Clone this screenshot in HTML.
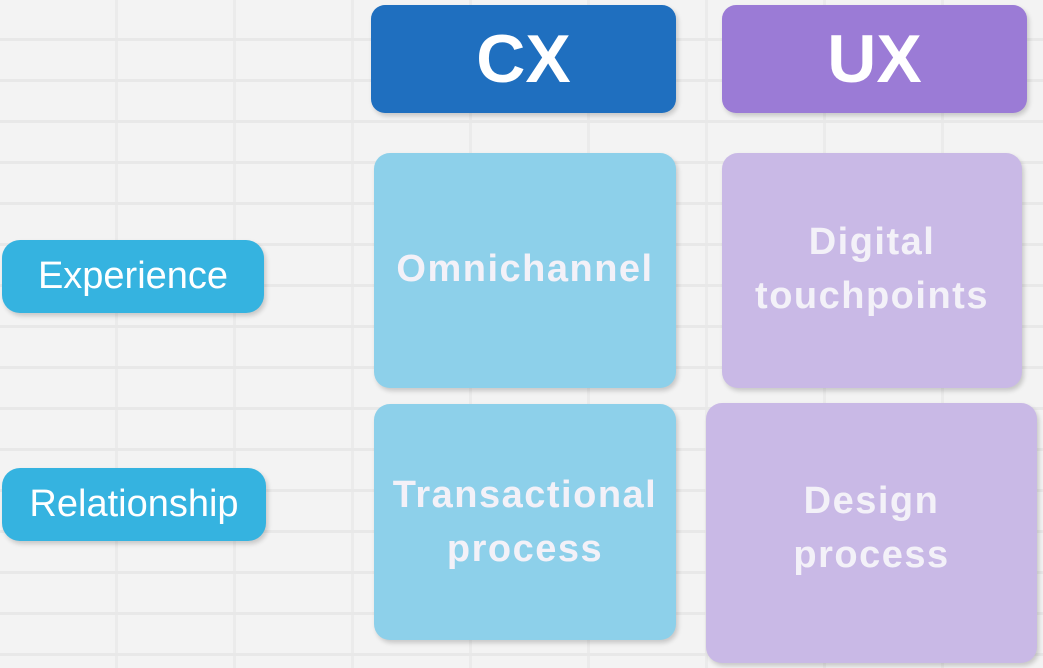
<!DOCTYPE html>
<html><head><style>
html,body{margin:0;padding:0}
body{width:1043px;height:668px;position:relative;overflow:hidden;background:#f2f2f2;font-family:"Liberation Sans",sans-serif;
background-image:
repeating-linear-gradient(180deg,transparent 0 38px,#e8e8e8 38px 41px),
repeating-linear-gradient(90deg,#f3f3f3 0 115px,#ebebeb 115px 118px);}
.b{position:absolute;border-radius:16px;display:flex;align-items:center;justify-content:center;text-align:center;color:#f3f1f8;font-weight:bold;box-shadow:2px 3px 5px rgba(0,0,0,0.18)}
.h{font-size:68px;color:#fff;border-radius:14px}
.c{font-size:38px;line-height:54px;letter-spacing:1.5px}
.p{font-size:38px;color:#fff;font-weight:normal;border-radius:18px}
</style></head><body>
<div class="b h" style="left:371px;top:5px;width:305px;height:108px;background:#1f6fbf">CX</div>
<div class="b h" style="left:722px;top:5px;width:305px;height:108px;background:#9b7bd6">UX</div>
<div class="b c" style="left:374px;top:153px;width:302px;height:235px;background:#8dd0ea;padding-bottom:4px;box-sizing:border-box">Omnichannel</div>
<div class="b c" style="left:722px;top:153px;width:300px;height:235px;background:#c9b9e6;padding-bottom:4px;box-sizing:border-box">Digital<br>touchpoints</div>
<div class="b c" style="left:374px;top:404px;width:302px;height:236px;background:#8dd0ea">Transactional<br>process</div>
<div class="b c" style="left:706px;top:403px;width:331px;height:260px;background:#c9b9e6;padding-bottom:10px;box-sizing:border-box">Design<br>process</div>
<div class="b p" style="left:2px;top:240px;width:262px;height:73px;background:#35b3e0">Experience</div>
<div class="b p" style="left:2px;top:468px;width:264px;height:73px;background:#35b3e0">Relationship</div>
</body></html>
